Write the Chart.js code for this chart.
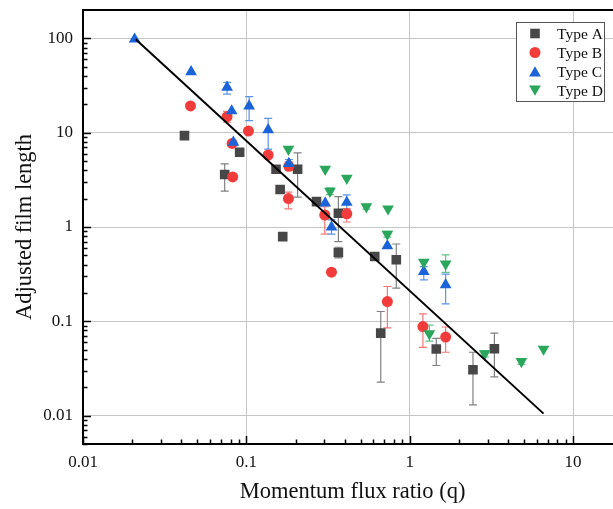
<!DOCTYPE html>
<html>
<head>
<meta charset="utf-8">
<script src="https://cdn.jsdelivr.net/npm/chart.js@4.4.0/dist/chart.umd.min.js"></script>
<style>
  html, body { margin: 0; padding: 0; background: #fff; overflow: hidden; }
  canvas { display: block; }
</style>
</head>
<body>
<canvas id="chart" width="629" height="509"></canvas>
<script>
// ---- Data: momentum flux ratio (q) vs adjusted film length ----
// Error ranges: null where a point has no error bar.

const seriesNames = ['Type A', 'Type B', 'Type C', 'Type D'];

const typeAQ  = [0.0418, 0.0737, 0.091, 0.152, 0.161, 0.206, 0.167, 0.269, 0.366, 0.366, 0.611, 0.828, 0.665, 1.455, 2.44, 3.3];
const typeAL  = [9.3, 3.6, 6.2, 4.1, 2.5, 4.1, 0.79, 1.86, 1.4, 0.536, 0.486, 0.449, 0.075, 0.0508, 0.0306, 0.0512];
const typeALo = [null, 2.4, null, null, null, 2.07, null, null, 0.70, 0.47, null, 0.225, 0.0227, 0.034, 0.013, 0.0257];
const typeAHi = [null, 4.66, null, null, null, 6.1, null, null, 2.1, 0.61, null, 0.66, 0.127, 0.066, 0.047, 0.075];

const typeBQ  = [0.0455, 0.0762, 0.0818, 0.0825, 0.103, 0.136, 0.182, 0.181, 0.302, 0.412, 0.332, 0.73, 1.205, 1.66];
const typeBL  = [19.2, 14.8, 7.7, 3.4, 10.4, 5.8, 4.4, 2.0, 1.34, 1.38, 0.332, 0.162, 0.088, 0.068];
const typeBLo = [null, 12.9, null, null, null, null, 4.0, 1.56, 0.84, 1.13, null, 0.085, 0.053, 0.047];
const typeBHi = [null, 16.8, null, null, null, null, 4.9, 2.34, 1.64, 1.57, null, 0.234, 0.12, 0.087];

const typeCQ  = [0.0207, 0.0459, 0.0762, 0.0813, 0.104, 0.136, 0.0833, 0.182, 0.304, 0.412, 0.332, 0.73, 1.22, 1.66];
const typeCL  = [98, 44.3, 30.3, 17.0, 19.2, 10.7, 7.9, 4.7, 1.79, 1.82, 0.995, 0.63, 0.337, 0.244];
const typeCLo = [null, null, 25.7, null, 13.4, 6.7, null, 4.2, null, 1.51, 0.84, null, 0.275, 0.153];
const typeCHi = [null, null, 34.2, null, 24.1, 14.2, null, 5.2, null, 2.19, 1.19, null, 0.38, 0.316];

const typeDQ  = [0.181, 0.304, 0.412, 0.325, 0.543, 0.737, 0.73, 1.22, 1.66, 1.32, 2.88, 4.83, 6.6];
const typeDL  = [6.7, 4.1, 3.3, 2.4, 1.64, 1.56, 0.84, 0.424, 0.406, 0.074, 0.0453, 0.0375, 0.0508];
const typeDLo = [null, null, null, 2.2, 1.55, null, 0.78, null, 0.33, 0.0617, 0.042, 0.035, null];
const typeDHi = [null, null, null, 2.6, 1.74, null, 0.9, null, 0.507, 0.091, 0.049, 0.040, null];

// Power-law fit, drawn between its two end points
const fitQ = [0.021, 6.6];
const fitL = [98, 0.0105];

const xTicks = [0.01, 0.1, 1, 10];
const yTicks = [0.01, 0.1, 1, 10, 100];

// ---- Styling ----
const FONT = '"Liberation Serif", "Times New Roman", serif';
const colors    = ['#474747', '#f23c3c', '#1b63d9', '#2ba65d'];
const errColors = ['#808080', '#f27676', '#5a92ea', '#63c28a'];
const styles    = [
  { pointStyle: 'rect', rotation: 0, radius: 6.8 },
  { pointStyle: 'circle', rotation: 0, radius: 5.5 },
  { pointStyle: 'triangle', rotation: 0, radius: 6.8 },
  { pointStyle: 'triangle', rotation: 180, radius: 6.8 }
];

function points(q, l) {
  return q.map((v, i) => ({ x: v, y: l[i] }));
}

const seriesQ  = [typeAQ, typeBQ, typeCQ, typeDQ];
const seriesL  = [typeAL, typeBL, typeCL, typeDL];
const seriesLo = [typeALo, typeBLo, typeCLo, typeDLo];
const seriesHi = [typeAHi, typeBHi, typeCHi, typeDHi];

const datasets = seriesNames.map((name, i) => ({
  label: name,
  data: points(seriesQ[i], seriesL[i]),
  errLo: seriesLo[i],
  errHi: seriesHi[i],
  errColor: errColors[i],
  backgroundColor: colors[i],
  borderColor: colors[i],
  borderWidth: 0,
  pointStyle: styles[i].pointStyle,
  rotation: styles[i].rotation,
  pointRadius: styles[i].radius,
  pointHoverRadius: styles[i].radius,
  order: 4 - i
}));

datasets.push({
  label: 'fit',
  type: 'line',
  data: points(fitQ, fitL),
  showLine: true,
  borderColor: '#000',
  borderWidth: 2,
  pointRadius: 0,
  fill: false,
  order: 0
});

// Vertical error bars with caps, under the markers
const errorBars = {
  id: 'errorBars',
  beforeDatasetsDraw(chart) {
    const { ctx, chartArea } = chart;
    const xs = chart.scales.x, ys = chart.scales.y;
    ctx.save();
    ctx.beginPath();
    ctx.rect(chartArea.left, chartArea.top, chartArea.right - chartArea.left, chartArea.bottom - chartArea.top);
    ctx.clip();
    chart.data.datasets.forEach(ds => {
      if (!ds.errLo) return;
      ctx.strokeStyle = ds.errColor;
      ctx.lineWidth = 1.2;
      ds.data.forEach((p, i) => {
        const lo = ds.errLo[i], hi = ds.errHi[i];
        if (lo == null || hi == null) return;
        const px = xs.getPixelForValue(p.x);
        const y1 = ys.getPixelForValue(lo);
        const y2 = ys.getPixelForValue(hi);
        ctx.beginPath();
        ctx.moveTo(px, y1); ctx.lineTo(px, y2);
        ctx.moveTo(px - 4, y1); ctx.lineTo(px + 4, y1);
        ctx.moveTo(px - 4, y2); ctx.lineTo(px + 4, y2);
        ctx.stroke();
      });
    });
    ctx.restore();
  }
};

// Inward major/minor log ticks, top frame line and boxed legend
const frame = {
  id: 'frame',
  afterDraw(chart) {
    const { ctx, chartArea } = chart;
    const xs = chart.scales.x, ys = chart.scales.y;
    ctx.save();
    ctx.strokeStyle = '#000';
    ctx.lineWidth = 1.5;
    ctx.beginPath();
    for (let e = -3; e <= 2; e++) {
      for (let k = 1; k <= 9; k++) {
        const v = k * Math.pow(10, e);
        const len = k === 1 ? 8 : 4.5;
        if (v >= xs.min && v < xs.max) {
          const px = Math.round(xs.getPixelForValue(v)) + 0.5;
          ctx.moveTo(px, chartArea.bottom);
          ctx.lineTo(px, chartArea.bottom - len);
        }
        if (v >= ys.min && v < ys.max) {
          const py = Math.round(ys.getPixelForValue(v)) + 0.5;
          ctx.moveTo(chartArea.left, py);
          ctx.lineTo(chartArea.left + len, py);
        }
      }
    }
    ctx.stroke();

    ctx.lineWidth = 2;
    ctx.beginPath();
    ctx.moveTo(chartArea.left - 1, chartArea.top);
    ctx.lineTo(chartArea.right, chartArea.top);
    ctx.stroke();

    // legend
    const bx = 516, by = 22, bw = 88, bh = 79;
    ctx.fillStyle = '#fff';
    ctx.fillRect(bx, by, bw, bh);
    ctx.strokeStyle = '#555';
    ctx.lineWidth = 1;
    ctx.strokeRect(bx + 0.5, by + 0.5, bw, bh);
    ctx.font = '15.5px ' + FONT;
    ctx.textBaseline = 'middle';
    ctx.textAlign = 'left';
    seriesNames.forEach((name, i) => {
      const cy = by + 11.5 + i * 19;
      ctx.fillStyle = colors[i];
      Chart.helpers.drawPoint(ctx, {
        pointStyle: styles[i].pointStyle,
        rotation: styles[i].rotation,
        radius: styles[i].radius,
        borderWidth: 0
      }, 535, cy + (styles[i].pointStyle === 'triangle' ? (styles[i].rotation ? -1.5 : 1.5) : 0));
      ctx.fillStyle = '#111';
      ctx.fillText(name, 557, cy + 1);
    });
    ctx.restore();
  }
};

function decadeTicks(list) {
  return function (scale) {
    scale.ticks = list.map(v => ({ value: v }));
  };
}

new Chart(document.getElementById('chart'), {
  type: 'scatter',
  data: { datasets },
  plugins: [errorBars, frame],
  options: {
    responsive: false,
    devicePixelRatio: 1,
    animation: false,
    events: [],
    layout: { padding: { top: 10, right: 0, left: 0, bottom: 0 } },
    plugins: {
      legend: { display: false },
      tooltip: { enabled: false }
    },
    scales: {
      x: {
        type: 'logarithmic',
        min: 0.01,
        max: 20,
        afterBuildTicks: decadeTicks(xTicks),
        afterFit(scale) {
          scale.height = 65;
          scale.paddingLeft = 0;
          scale.paddingRight = 0;
        },
        grid: { color: '#c6c6c6', lineWidth: 1, drawTicks: false },
        border: { color: '#000', width: 2 },
        ticks: {
          padding: 8,
          maxRotation: 0,
          autoSkip: false,
          color: '#111',
          font: { family: FONT, size: 17 },
          callback: v => String(v)
        },
        title: {
          display: true,
          text: 'Momentum flux ratio (q)',
          color: '#111',
          font: { family: FONT, size: 22.5 },
          padding: { top: 0, bottom: 3 }
        }
      },
      y: {
        type: 'logarithmic',
        min: 0.005,
        max: 200,
        afterBuildTicks: decadeTicks(yTicks),
        afterFit(scale) {
          scale.width = 83;
          scale.paddingTop = 0;
          scale.paddingBottom = 0;
        },
        grid: { color: '#c6c6c6', lineWidth: 1, drawTicks: false },
        border: { color: '#000', width: 2 },
        ticks: {
          padding: 10,
          autoSkip: false,
          color: '#111',
          font: { family: FONT, size: 17 },
          callback: v => String(v)
        },
        title: {
          display: true,
          text: 'Adjusted film length',
          color: '#111',
          font: { family: FONT, size: 22.5 },
          padding: { top: 12, bottom: 0 }
        }
      }
    }
  }
});
</script>
</body>
</html>
